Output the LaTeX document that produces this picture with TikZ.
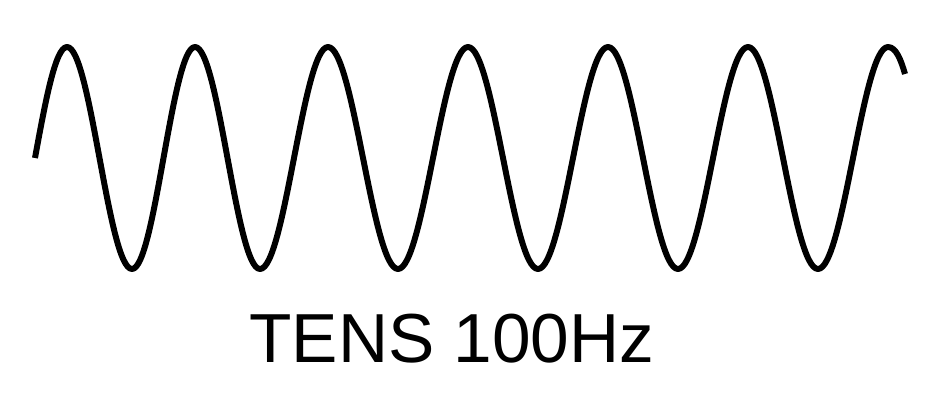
\documentclass[tikz,border=0pt]{standalone}
\usepackage{fontspec}
\setmainfont{Liberation Sans}
\usetikzlibrary{positioning}
\tikzset{
  wave/.style={line width=3.4pt,draw=black,line join=round},
  caption/.style={font=\fontsize{39.5}{44}\selectfont,inner sep=0pt,anchor=base}
}

\begin{document}
\begin{tikzpicture}[x=0.02cm,y=-0.02cm]
  \useasboundingbox (0,0) rectangle (930,405);
  % peak / trough positions of the signal
  \draw[wave] (35,158)
    \foreach \xp/\zp/\xt/\zt in {67/99.5/132/163.5, 195/227.5/260/294, 328/363/398/433,
                                468/503/538/573, 608/643/678/713, 748/783/818/853} {
      sin (\xp,47) cos (\zp,158) sin (\xt,269) cos (\zt,158)
    }
    sin (888,47) .. controls (896,47) and (901,60) .. (905,74);

  \node[caption] (label) at (452,362) {TENS 100Hz};
\end{tikzpicture}
\end{document}
